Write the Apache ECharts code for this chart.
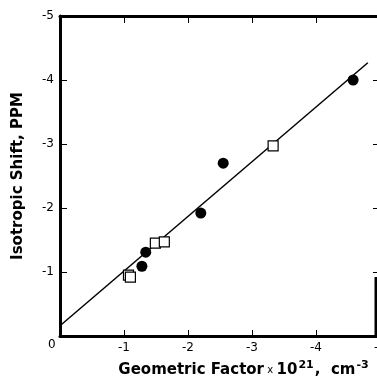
<!DOCTYPE html>
<html>
<head>
<meta charset="utf-8">
<script src="https://cdn.jsdelivr.net/npm/echarts@6/dist/echarts.min.js"></script>
<style>
  html, body { margin: 0; padding: 0; background: #fff; }
  #chart { width: 377px; height: 376px; }
</style>
</head>
<body>
<div id="chart"></div>
<script>
// filled circles (geometric factor, isotropic shift)
const circleX = [-4.58, -2.55, -2.20, -1.34, -1.28];
const circleY = [-4.00, -2.70, -1.92, -1.31, -1.09];
// open squares
const squareX = [-3.33, -1.49, -1.63, -1.07, -1.10];
const squareY = [-2.97, -1.45, -1.47, -0.95, -0.92];
// fitted line end points
const fitX = [0, -4.81];
const fitY = [-0.16, -4.27];

const zip = (xs, ys) => xs.map((x, i) => [x, ys[i]]);

const chart = echarts.init(document.getElementById('chart'));
const font = 'DejaVu Sans';

let tickLabel = {
    fontFamily: font,
    fontSize: 12,
    color: '#000',
    formatter: v => (v === 0 ? '' : String(v))
};

let option = {
    animation: false,
    grid: { left: 60, top: 16, right: -3, bottom: 40, containLabel: false, outerBoundsMode: 'none' },
    xAxis: [{
        type: 'value', min: -5, max: 0, interval: 1, inverse: true,
        axisLine: { show: true, onZero: false, lineStyle: { color: '#000', width: 3 } },
        axisTick: { inside: true, length: 6, lineStyle: { color: '#000', width: 1 } },
        axisLabel: Object.assign({ margin: 6 }, tickLabel),
        splitLine: { show: false },
        name: '{a|Geometric Factor} {s|x} {a|10}{sup|21}{a|,  cm}{sup|-3}',
        nameLocation: 'middle',
        nameGap: 24,
        nameTextStyle: {
            padding: [0, 0, 0, 48],
            rich: {
                a: { fontFamily: font, fontSize: 15, fontWeight: 'bold', color: '#000' },
                s: { fontFamily: font, fontSize: 10, color: '#000' },
                sup: { fontFamily: font, fontSize: 11, fontWeight: 'bold', color: '#000', verticalAlign: 'top', padding: [0, 1, 10, 1] }
            }
        }
    }, {
        type: 'value', position: 'top', min: -5, max: 0, interval: 1, inverse: true,
        axisLine: { show: true, onZero: false, lineStyle: { color: '#000', width: 3 } },
        axisTick: { inside: true, length: 7, lineStyle: { color: '#000', width: 1 } },
        axisLabel: { show: false },
        splitLine: { show: false }
    }],
    yAxis: [{
        type: 'value', min: -5, max: 0, interval: 1, inverse: true,
        axisLine: { show: true, onZero: false, lineStyle: { color: '#000', width: 3 } },
        axisTick: { inside: true, length: 7, lineStyle: { color: '#000', width: 1 } },
        axisLabel: Object.assign({ margin: 6 }, tickLabel),
        splitLine: { show: false },
        name: 'Isotropic Shift, PPM',
        nameLocation: 'middle',
        nameGap: 34,
        nameTextStyle: { fontFamily: font, fontSize: 15, fontWeight: 'bold', color: '#000' }
    }, {
        type: 'value', position: 'right', min: -5, max: 0, interval: 1, inverse: true,
        axisLine: { show: false, onZero: false },
        axisTick: { inside: true, length: 7, lineStyle: { color: '#000', width: 1 } },
        axisLabel: { show: false },
        splitLine: { show: false }
    }],
    graphic: [{
        type: 'text', left: 48, top: 339,
        style: { text: '0', font: '12px "DejaVu Sans"', fill: '#000' }
    }, {
        // visible lower piece of the cropped right frame
        type: 'line',
        shape: { x1: 376, y1: 277, x2: 376, y2: 336 },
        style: { stroke: '#000', lineWidth: 3 }
    }],
    series: [{
        type: 'line',
        data: zip(fitX, fitY),
        symbol: 'none',
        lineStyle: { color: '#000', width: 1.5 },
        z: 1
    }, {
        type: 'scatter',
        data: zip(circleX, circleY),
        symbol: 'circle',
        symbolSize: 11,
        itemStyle: { color: '#000', opacity: 1 },
        z: 3
    }, {
        type: 'scatter',
        data: zip(squareX, squareY),
        symbol: 'rect',
        symbolSize: 10,
        itemStyle: { color: '#fff', borderColor: '#000', borderWidth: 1.2, opacity: 1 },
        z: 3
    }]
};

chart.setOption(option);
</script>
</body>
</html>
